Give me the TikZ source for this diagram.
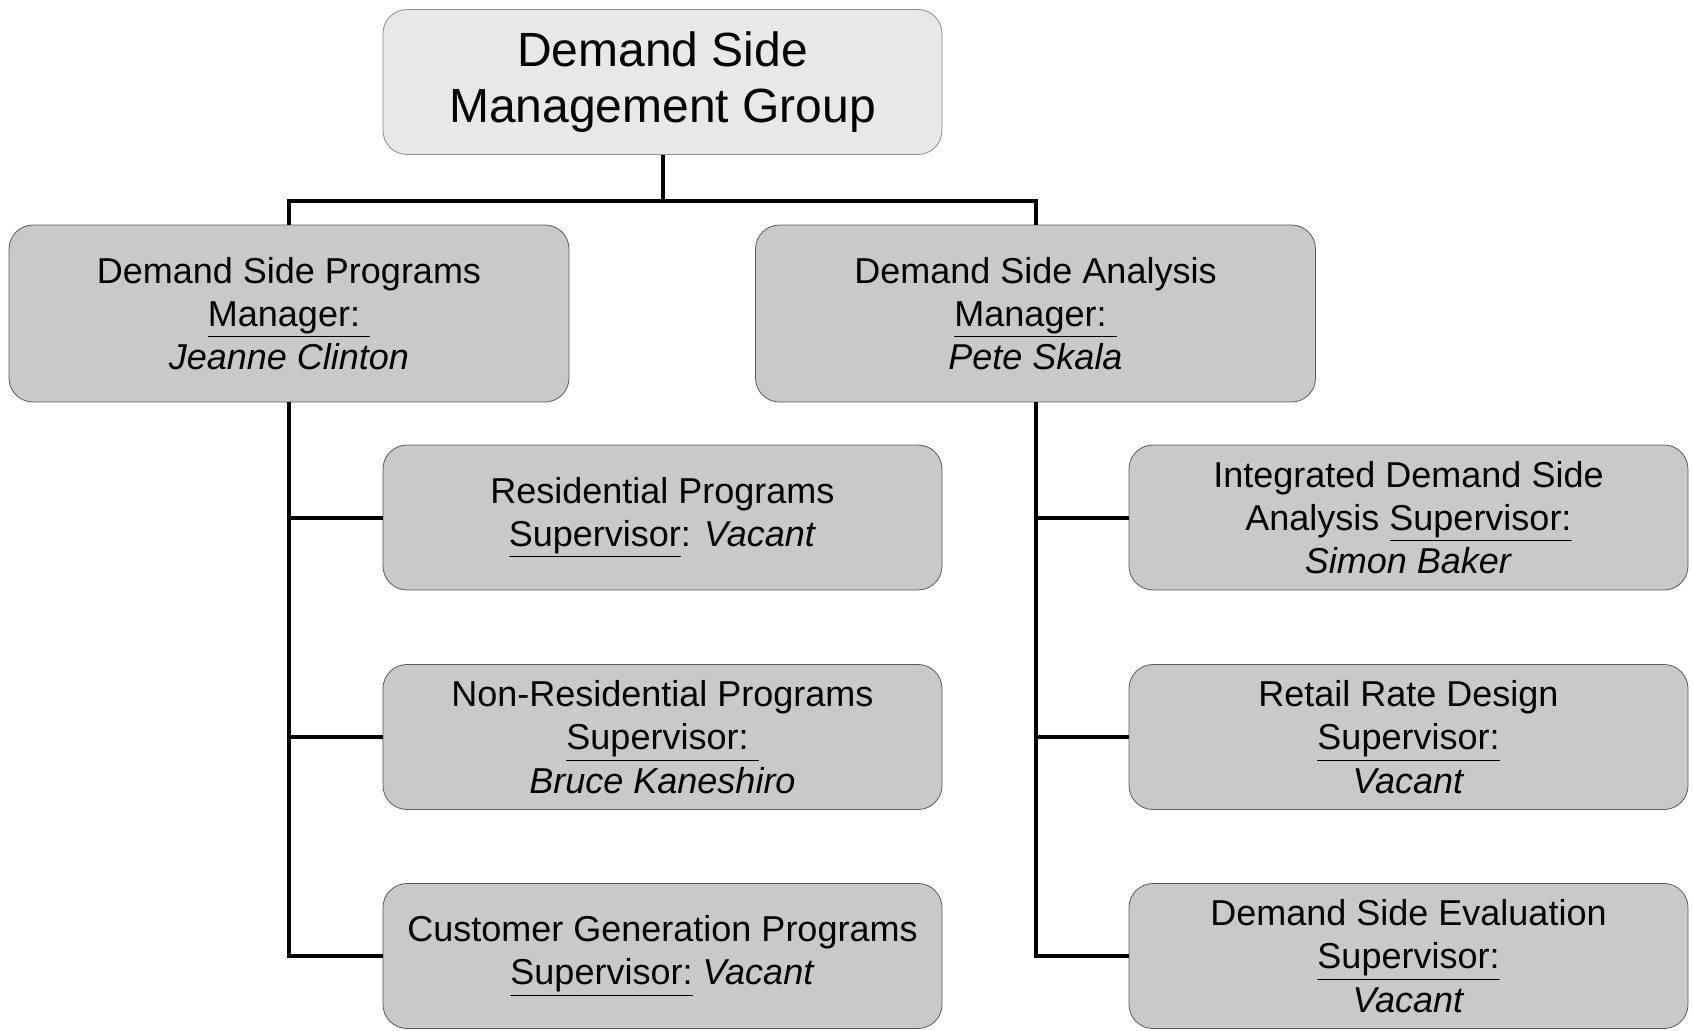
\documentclass[tikz,border=0pt]{standalone}
\usepackage{fontspec}
\setmainfont{Liberation Sans}
\begin{document}
\begin{tikzpicture}[
              x = 0.5pt, y = -0.5pt,
              unit/.style = {draw = black!65, fill = black!21, rounded corners = 12pt,
                             align = center, inner sep = 0pt,
                             minimum width = 279.5pt, minimum height = 72.5pt,
                             font = \fontsize{18}{21.6}\selectfont},
              headunit/.style = {unit, draw = black!45, fill = black!9,
                                 font = \fontsize{24}{28}\selectfont},
              manager/.style = {unit, minimum width = 280pt, minimum height = 88.5pt},
              tree/.style = {line width = 2pt}
            ]
            \useasboundingbox (0,0) rectangle (1693,1030);
            % nodes
            \node[headunit] (dsm) at (662.5, 82)  {Demand Side\\Management Group};
            \node[manager]  (dsp) at (289, 313.5) {Demand Side Programs\\\underline{Manager:\ }\\\textit{Jeanne Clinton}};
            \node[manager]  (dsa) at (1035.5, 313.5) {Demand Side Analysis\\\underline{Manager:\ }\\\textit{Pete Skala}};
            \node[unit] (res)  at (662.5, 517.5) {Residential Programs\\\underline{Supervisor}: \textit{Vacant}};
            \node[unit] (nres) at (662.5, 737)   {Non-Residential Programs\\\underline{Supervisor:\ }\\\textit{Bruce Kaneshiro}};
            \node[unit] (cgen) at (662.5, 956)   {Customer Generation Programs\\\underline{Supervisor:} \textit{Vacant}};
            \node[unit] (ida)  at (1408.5, 517.5) {Integrated Demand Side\\Analysis \underline{Supervisor:}\\\textit{Simon Baker}};
            \node[unit] (rrd)  at (1408.5, 737)   {Retail Rate Design\\\underline{Supervisor:}\\\textit{Vacant}};
            \node[unit] (dse)  at (1408.5, 956)   {Demand Side Evaluation\\\underline{Supervisor:}\\\textit{Vacant}};
            \coordinate (bus) at (0, 201);
            % the group
            \draw[tree] (dsm.south) -- (dsm.south |- bus);
            \draw[tree] (dsp.north) |- (dsm.south |- bus) -| (dsa.north);
            % the programs
            \draw[tree] (dsp.south) |- (res.west);
            \draw[tree] (dsp.south) |- (nres.west);
            \draw[tree] (dsp.south) |- (cgen.west);
            % the analysis
            \draw[tree] (dsa.south) |- (ida.west);
            \draw[tree] (dsa.south) |- (rrd.west);
            \draw[tree] (dsa.south) |- (dse.west);
          \end{tikzpicture}
\end{document}
